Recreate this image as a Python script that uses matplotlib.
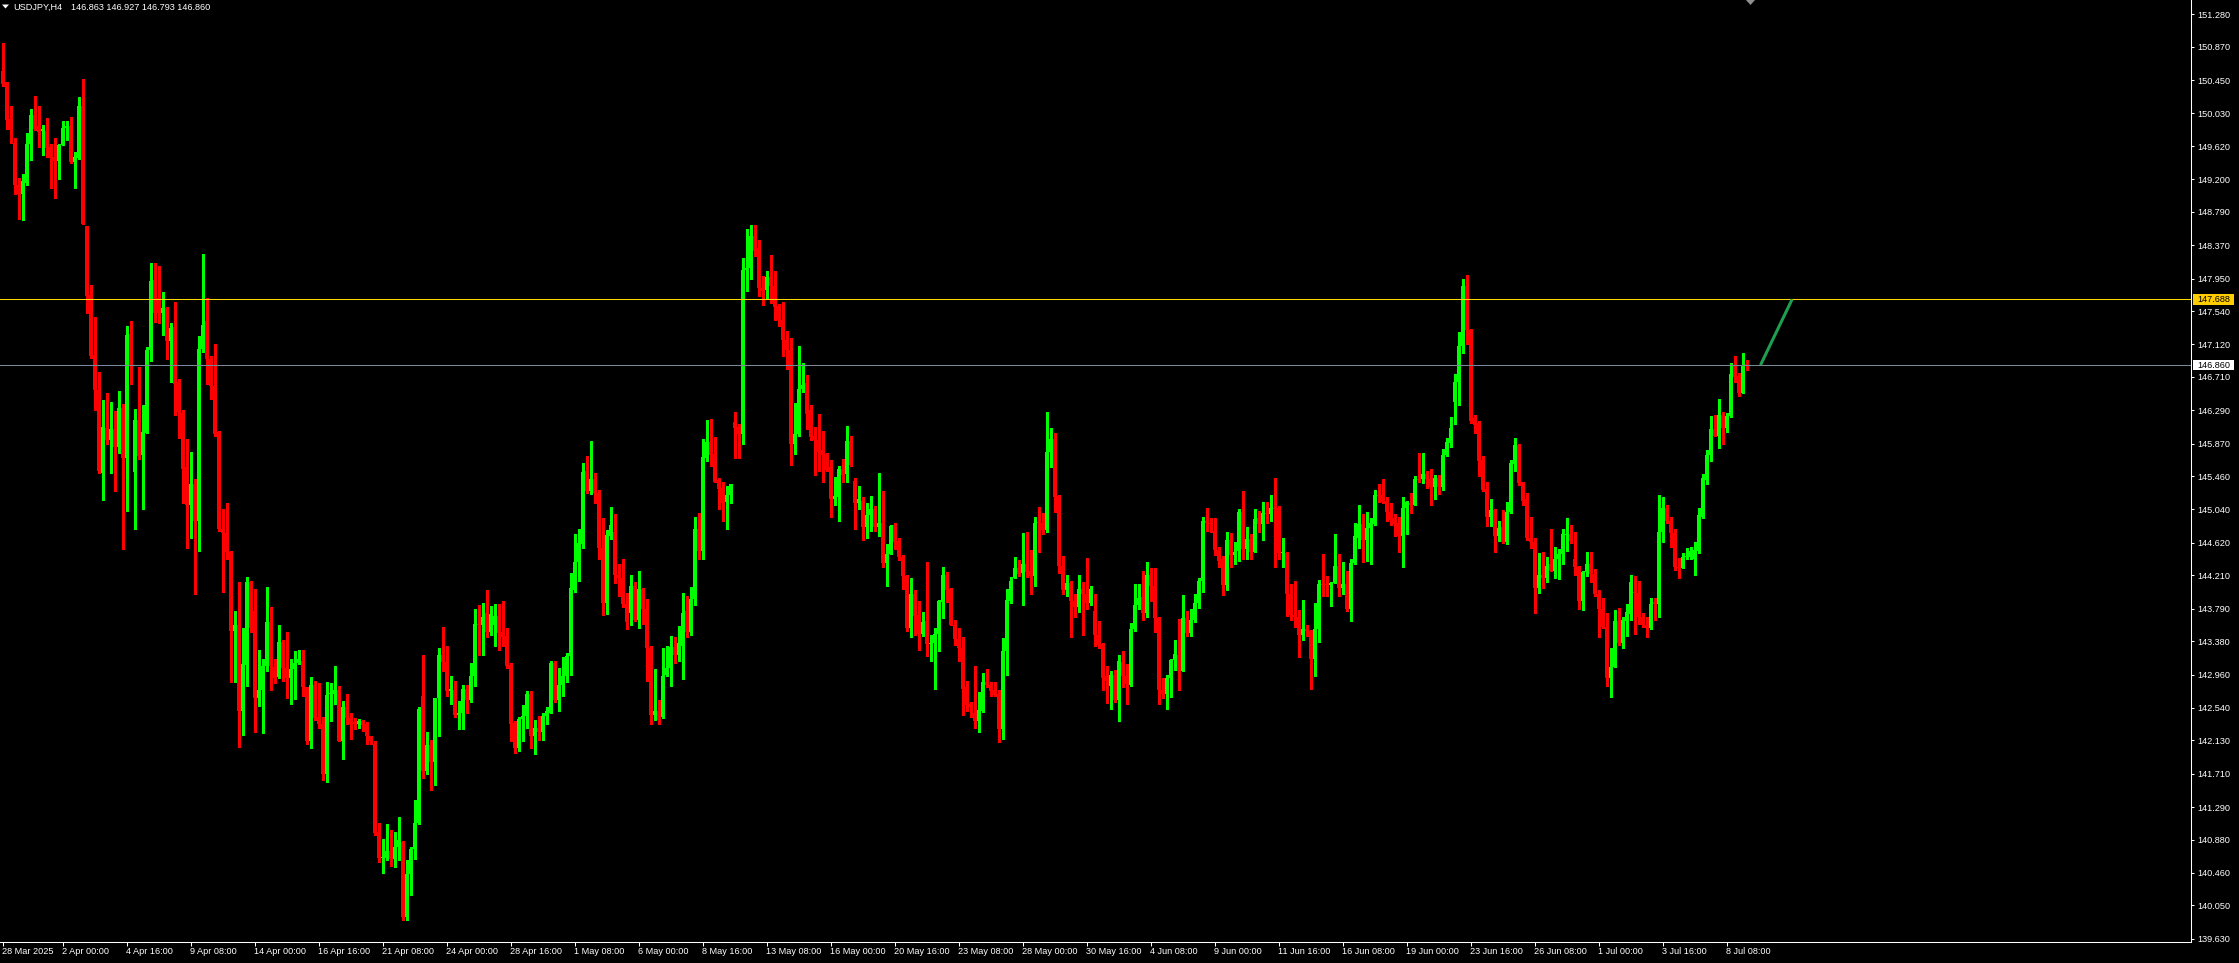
import matplotlib
matplotlib.use('Agg')
import matplotlib.pyplot as plt
from matplotlib.patches import Polygon, Rectangle
from matplotlib.transforms import blended_transform_factory, IdentityTransform
import numpy as np

plt.rcParams['font.family'] = ['Liberation Sans', 'DejaVu Sans']

symbol = 'USDJPY,H4'

opens = [
150.56,150.43,149.96,149.66,149.13,149.01,149.15,149.64,150.01,149.87,
149.81,149.81,149.61,149.48,149.43,149.63,149.85,149.87,149.42,149.47,
150.13,148.61,147.74,146.99,146.54,145.50,146.07,145.91,146.05,145.83,
146.32,145.69,147.25,145.51,146.17,145.72,146.00,147.05,147.93,147.71,
147.51,147.58,147.16,147.34,146.64,146.26,145.57,145.09,145.36,144.90,
147.06,147.41,146.93,146.59,146.01,144.79,144.74,144.51,143.51,143.59,
142.50,143.08,144.13,143.76,142.66,142.76,143.07,143.62,143.05,142.93,
143.37,143.04,142.91,143.03,143.11,143.13,142.80,142.12,142.83,142.42,
142.34,141.71,142.71,142.72,142.76,142.12,142.55,142.41,142.36,142.34,
142.37,142.34,142.18,142.09,140.98,140.65,140.65,140.74,140.64,140.79,
140.85,139.91,140.44,140.76,141.09,142.69,141.74,142.07,141.86,142.67,
143.21,143.12,142.76,142.77,142.45,142.48,142.78,142.64,142.94,143.60,
143.59,143.73,143.49,143.58,143.70,143.49,143.45,143.08,142.35,142.03,
142.40,142.44,142.72,142.19,142.29,142.24,142.44,142.48,143.11,142.64,
142.83,142.94,143.19,144.03,144.38,144.60,145.52,145.27,145.42,145.25,
144.56,143.86,144.71,144.76,144.22,144.17,143.85,143.74,144.08,143.65,
144.04,143.78,143.30,142.45,142.50,142.42,142.96,143.04,143.31,143.20,
143.32,143.76,143.49,143.91,144.79,144.52,145.69,145.89,145.74,145.41,
145.31,145.14,145.22,146.14,146.08,145.99,148.06,148.08,148.49,148.33,
147.83,147.80,147.97,147.86,147.60,147.43,147.18,147.05,145.86,145.99,
146.56,146.63,146.29,145.96,145.91,145.79,145.74,145.58,145.17,145.20,
145.55,145.49,145.90,145.40,145.12,145.15,144.82,144.97,145.04,144.82,
144.87,144.37,144.48,144.84,144.64,144.44,144.20,143.54,143.98,143.71,
143.47,143.63,143.34,143.36,143.47,143.87,144.21,144.04,143.59,143.41,
143.29,142.80,142.59,142.48,142.37,142.50,142.86,142.83,142.77,142.72,
142.27,143.26,143.88,144.17,144.30,144.24,144.35,144.27,144.20,144.87,
144.87,144.78,145.77,145.93,145.21,144.33,144.03,144.11,143.89,143.81,
144.04,143.98,143.86,143.76,143.46,143.35,142.94,142.81,142.95,142.64,
143.12,142.94,142.83,143.53,143.84,143.94,143.74,144.21,144.08,143.67,
142.76,142.72,142.91,143.14,143.21,143.01,143.67,143.48,143.65,143.86,
144.14,144.90,144.87,144.77,144.53,144.41,144.09,144.65,144.46,144.52,
145.01,144.54,144.67,144.51,144.93,144.86,144.99,144.98,145.06,145.06,
144.49,144.49,143.97,143.71,143.68,143.46,143.53,143.51,143.16,143.53,
144.10,144.10,144.09,144.11,144.33,144.05,144.10,143.78,144.36,144.68,
144.86,144.65,144.80,144.86,145.22,145.22,145.15,145.01,144.93,144.87,
144.71,145.06,145.12,145.10,145.42,145.42,145.49,145.42,145.32,145.44,
145.32,145.72,145.88,146.40,146.65,147.10,147.86,147.30,146.19,146.13,
145.66,145.30,144.95,145.03,144.71,144.82,144.63,145.01,145.61,145.85,
145.38,145.17,144.68,144.63,144.05,144.22,144.17,144.35,144.27,144.42,
144.48,144.72,144.73,144.42,144.31,143.89,144.25,144.35,144.23,143.98,
143.78,143.56,142.92,143.06,143.63,143.36,143.64,143.72,144.00,143.99,
143.69,143.59,143.55,143.87,143.85,144.76,145.06,144.90,144.74,144.31,
144.30,144.44,144.44,144.41,144.52,144.95,145.41,145.73,146.05,145.97,
146.23,146.07,146.22,146.86,146.72,146.51,146.863]

highs = [
150.92,150.43,150.13,149.72,149.22,149.27,149.78,150.09,150.25,150.13,
149.89,149.97,149.64,149.72,149.64,149.93,149.93,149.99,149.55,150.24,
150.46,148.61,147.87,147.46,146.77,146.42,146.51,146.40,146.28,146.53,
146.37,147.35,147.41,146.31,146.84,146.36,147.09,148.14,148.14,148.11,
147.78,147.59,147.39,147.65,146.69,146.29,145.93,145.77,145.42,147.23,
148.26,147.70,146.97,147.13,146.03,145.04,145.12,144.52,143.76,144.13,
143.54,144.19,144.14,144.04,143.27,143.16,144.06,143.81,143.16,143.59,
143.39,143.49,143.16,143.25,143.27,143.27,142.80,142.93,142.88,142.85,
142.43,142.86,142.85,143.07,142.81,142.63,142.71,142.48,142.41,142.40,
142.39,142.36,142.19,142.12,141.09,140.89,141.07,141.00,140.97,141.17,
140.86,140.62,140.79,141.38,142.55,143.21,142.23,142.14,142.67,143.29,
143.56,143.32,142.94,142.88,142.63,142.83,142.83,143.10,143.78,143.84,
143.86,144.03,143.82,143.85,143.85,143.89,143.54,143.10,142.37,142.43,
142.57,142.75,142.75,142.39,142.44,142.48,142.55,143.13,143.13,143.04,
143.18,143.23,144.24,144.73,144.79,145.63,145.71,145.90,145.50,145.28,
144.93,144.78,145.07,144.98,144.35,144.41,143.99,144.22,144.13,144.27,
144.05,143.91,143.32,143.03,142.64,143.29,143.32,143.45,143.43,143.57,
143.99,143.95,144.06,144.95,145.00,145.93,146.17,146.18,145.95,145.44,
145.39,145.34,145.36,146.27,146.12,148.21,148.57,148.63,148.63,148.44,
147.98,148.04,148.25,148.04,147.63,147.65,147.29,147.20,146.38,147.10,
146.89,146.73,146.35,146.08,146.24,146.03,145.75,145.66,145.45,145.59,
145.68,146.09,145.96,145.44,145.34,145.20,145.12,145.21,145.08,145.50,
145.27,144.60,144.84,144.87,144.68,144.46,144.22,144.18,144.02,143.89,
143.75,144.38,143.46,143.54,143.90,144.31,144.25,144.05,143.65,143.55,
143.43,142.88,142.61,143.07,142.74,142.98,143.03,142.87,142.86,142.76,
143.42,144.04,144.19,144.44,144.40,144.74,144.76,144.53,144.95,145.07,
144.99,146.27,146.07,146.00,145.22,144.45,144.22,144.14,143.97,144.22,
144.12,144.43,144.08,143.97,143.64,143.36,143.07,143.00,143.02,143.21,
143.26,143.09,143.61,144.10,144.10,144.26,144.38,144.30,144.30,143.69,
142.92,142.96,143.16,143.40,143.66,143.96,143.76,143.78,143.97,144.17,
144.95,145.06,144.93,144.93,144.57,144.45,144.76,144.74,144.63,145.04,
145.27,144.82,144.73,145.04,145.02,145.14,145.13,145.22,145.44,145.08,
144.68,144.50,144.10,144.14,143.77,143.90,143.59,143.52,143.86,144.15,
144.48,144.20,144.13,144.73,144.48,144.38,144.27,144.41,144.87,145.09,
144.98,145.01,144.93,145.28,145.36,145.42,145.20,145.12,144.98,144.95,
145.20,145.15,145.25,145.46,145.75,145.75,145.53,145.55,145.48,145.47,
145.80,145.94,146.21,146.75,147.27,147.95,148.00,147.32,146.23,146.15,
145.71,145.39,145.17,145.04,144.90,145.03,145.14,145.66,145.94,145.86,
145.39,145.25,144.95,144.68,144.49,144.50,144.44,144.79,144.57,144.54,
144.79,144.93,144.84,144.75,144.33,144.27,144.50,144.50,144.29,144.02,
143.93,143.74,143.29,143.77,143.80,143.69,143.85,144.22,144.20,144.14,
143.73,143.69,143.92,143.92,145.22,145.20,145.10,144.95,144.79,144.43,
144.49,144.55,144.57,144.63,145.06,145.49,145.79,146.22,146.23,146.43,
146.27,146.26,146.89,146.97,146.76,147.01,146.927]

lows = [
150.37,149.84,149.66,149.01,148.70,148.69,149.13,149.44,149.82,149.61,
149.51,149.48,149.09,148.96,149.21,149.63,149.69,149.40,149.09,149.46,
148.64,147.51,146.95,146.29,145.50,145.16,145.86,145.50,145.27,145.75,
144.54,145.02,146.62,144.79,145.67,145.05,146.00,146.91,147.40,147.39,
147.24,146.94,146.65,146.23,145.94,145.12,144.56,144.68,143.98,144.52,
147.03,146.62,146.43,145.96,144.77,144.00,144.42,142.87,142.87,142.05,
142.20,142.81,143.49,142.23,142.56,142.22,143.01,142.76,142.85,142.91,
142.88,142.67,142.59,142.65,143.09,142.69,142.09,142.03,142.39,142.29,
141.63,141.60,142.37,142.59,142.12,141.89,142.34,142.15,142.27,142.28,
142.25,142.09,142.09,140.94,140.60,140.46,140.62,140.55,140.53,140.62,
139.87,139.87,140.18,140.64,141.08,141.66,141.71,141.51,141.57,142.18,
143.00,142.69,142.59,142.42,142.27,142.27,142.47,142.61,142.81,143.21,
143.21,143.43,143.46,143.32,143.27,143.32,143.04,142.12,141.97,142.00,
142.12,142.29,142.03,141.96,142.13,142.13,142.33,142.48,142.61,142.50,
142.69,142.86,142.95,144.00,144.14,144.55,145.25,145.23,145.12,144.42,
143.71,143.72,144.67,144.11,143.95,143.81,143.53,143.59,143.64,143.54,
143.60,142.88,142.34,142.39,142.34,142.41,142.94,142.81,143.11,143.13,
142.90,143.43,143.46,143.83,144.41,144.42,145.65,145.59,145.39,145.05,
144.90,144.79,145.12,145.69,145.69,145.86,147.79,147.95,148.23,147.73,
147.62,147.71,147.64,147.43,147.35,146.97,146.81,145.60,145.74,145.97,
146.52,146.05,145.92,145.47,145.53,145.39,145.52,144.95,145.10,144.90,
145.39,145.39,145.59,144.79,145.04,144.65,144.68,144.77,144.77,144.71,
144.32,144.08,144.48,144.54,144.40,144.04,143.51,143.43,143.46,143.27,
143.44,143.19,143.13,142.78,143.26,143.67,143.87,143.58,143.33,143.13,
142.45,142.50,142.42,142.28,142.23,142.49,142.80,142.69,142.69,142.11,
142.15,142.96,143.86,144.17,144.20,143.83,144.19,143.98,144.07,144.50,
144.73,144.76,145.58,145.01,144.24,143.97,143.95,143.43,143.68,143.75,
143.46,143.78,143.84,143.32,143.29,142.76,142.60,142.52,142.61,142.37,
142.80,142.59,142.81,143.51,143.78,143.65,143.68,143.89,143.49,142.59,
142.67,142.52,142.68,143.02,142.76,143.01,143.44,143.45,143.62,143.80,
144.00,144.77,144.76,144.46,144.32,143.96,144.02,144.32,144.35,144.39,
144.42,144.41,144.42,144.50,144.75,144.65,144.87,144.90,144.31,144.42,
144.31,143.70,143.65,143.56,143.18,143.40,143.44,142.78,142.94,143.37,
143.95,143.95,143.82,144.13,143.95,143.97,143.76,143.63,144.35,144.55,
144.38,144.39,144.35,144.84,145.13,145.12,144.89,144.84,144.70,144.51,
144.31,144.73,145.00,145.09,145.39,145.37,145.31,145.10,145.17,145.23,
145.28,145.71,145.83,146.12,146.35,147.01,147.13,146.13,146.00,145.46,
145.27,144.83,144.83,144.50,144.64,144.62,144.60,144.99,145.53,145.35,
145.09,144.66,144.55,143.74,143.99,144.05,144.13,144.26,144.17,144.16,
144.35,144.52,144.62,144.22,143.78,143.77,144.20,144.12,143.95,143.43,
143.54,142.81,142.68,143.06,143.33,143.29,143.44,143.65,143.47,143.60,
143.56,143.43,143.53,143.65,143.69,144.63,144.87,144.57,144.28,144.17,
144.30,144.41,144.41,144.21,144.49,144.93,145.36,145.65,145.97,145.81,
145.86,146.01,146.21,146.64,146.47,146.51,146.793]

closes = [
150.40,149.95,149.82,149.13,149.01,149.18,149.64,150.01,149.84,149.80,
149.83,149.60,149.47,149.43,149.63,149.85,149.87,149.42,149.48,150.13,
148.64,147.73,146.98,146.54,145.53,146.08,145.91,146.05,145.83,146.32,
145.69,147.24,146.86,146.17,145.71,146.02,147.05,147.92,147.51,147.51,
147.58,147.16,147.33,146.62,146.27,145.55,145.09,145.36,144.90,147.06,
147.36,146.93,146.59,145.99,144.79,144.74,144.51,143.51,143.59,142.50,
143.09,144.13,143.54,142.66,142.76,143.07,143.62,143.07,142.91,143.37,
143.04,142.91,143.03,143.11,143.16,142.80,142.12,142.83,142.41,142.34,
141.71,142.70,142.72,142.76,142.12,142.55,142.41,142.34,142.34,142.38,
142.32,142.18,142.12,140.96,140.65,140.66,140.74,140.64,140.79,140.87,
139.91,140.44,140.76,141.09,142.53,141.75,142.07,141.86,142.67,143.21,
143.12,142.75,142.77,142.45,142.48,142.78,142.64,142.94,143.60,143.59,
143.69,143.49,143.72,143.70,143.48,143.43,143.07,142.34,142.03,142.40,
142.44,142.72,142.19,142.29,142.24,142.44,142.50,143.11,142.64,142.83,
142.94,143.19,144.05,144.38,144.62,145.51,145.27,145.42,145.25,144.56,
143.86,144.72,144.84,144.22,144.17,143.85,143.62,144.08,143.65,144.04,
143.78,143.29,142.45,142.50,142.39,142.94,143.04,143.31,143.20,143.36,
143.73,143.49,143.91,144.79,144.52,145.70,145.89,145.73,145.39,145.30,
145.12,145.22,145.36,146.07,145.99,148.06,148.08,148.49,148.30,147.83,
147.79,147.97,147.86,147.59,147.43,147.18,147.05,145.86,145.99,146.56,
146.61,146.24,145.95,145.92,145.77,145.73,145.54,145.17,145.21,145.55,
145.47,145.90,145.60,145.12,145.17,144.82,144.97,145.04,144.82,144.87,
144.37,144.48,144.83,144.63,144.44,144.20,143.54,143.97,143.70,143.47,
143.62,143.34,143.36,143.47,143.88,144.21,144.03,143.59,143.41,143.29,
142.78,142.58,142.55,142.37,142.51,142.86,142.83,142.75,142.70,142.27,
143.26,143.90,144.14,144.30,144.23,144.35,144.25,144.20,144.87,144.87,
144.78,145.77,145.93,145.20,144.33,144.03,144.11,143.88,143.81,144.04,
143.98,143.86,144.04,143.46,143.33,142.92,142.88,142.95,142.64,143.13,
142.94,142.84,143.53,143.84,143.92,143.73,144.21,144.08,143.67,142.76,
142.72,142.91,143.14,143.22,143.01,143.67,143.48,143.65,143.86,144.14,
144.90,144.87,144.86,144.53,144.39,144.09,144.65,144.46,144.50,145.01,
144.54,144.67,144.51,144.92,144.86,144.99,144.98,145.06,145.04,144.49,
144.51,143.97,143.71,143.68,143.46,143.53,143.51,143.16,143.53,144.10,
144.09,144.09,144.11,144.33,144.05,144.10,143.78,144.36,144.70,144.86,
144.65,144.80,144.87,145.22,145.21,145.14,145.01,144.91,144.86,144.71,
145.06,145.14,145.10,145.42,145.41,145.49,145.42,145.32,145.44,145.32,
145.72,145.89,146.07,146.65,147.10,147.86,147.30,146.16,146.10,145.65,
145.28,144.95,145.03,144.71,144.80,144.63,145.01,145.63,145.85,145.37,
145.15,144.68,144.63,144.05,144.22,144.17,144.33,144.27,144.41,144.48,
144.73,144.73,144.64,144.31,143.89,144.25,144.35,144.23,143.98,143.78,
143.56,142.92,143.06,143.63,143.36,143.65,143.75,144.13,143.99,143.69,
143.58,143.55,143.85,143.85,144.76,145.06,144.90,144.74,144.31,144.30,
144.44,144.45,144.52,144.53,144.97,145.43,145.73,146.05,145.97,146.23,
146.07,146.22,146.75,146.71,146.51,146.86,146.860]

# horizontal level (gold line) and current bid (grey line)
level_price = 147.688
bid_price = 146.860
# projected move drawn on the chart: from bar position to bar position
proj_bars = [439.5, 447.4]

y_tick_values = [151.280, 150.870, 150.450, 150.030, 149.620, 149.200, 148.790,
                 148.370, 147.950, 147.540, 147.120, 146.710, 146.290, 145.870,
                 145.460, 145.040, 144.620, 144.210, 143.790, 143.380, 142.960,
                 142.540, 142.130, 141.710, 141.290, 140.880, 140.460, 140.050,
                 139.630]

x_label_bars = [0, 15, 31, 47, 63, 79, 95, 111, 127, 143, 159, 175, 191, 207,
                223, 239, 255, 271, 287, 303, 319, 335, 351, 367, 383, 399, 415, 431]
x_labels = ['28 Mar 2025', '2 Apr 00:00', '4 Apr 16:00', '9 Apr 08:00', '14 Apr 00:00',
            '16 Apr 16:00', '21 Apr 08:00', '24 Apr 00:00', '28 Apr 16:00', '1 May 08:00',
            '6 May 00:00', '8 May 16:00', '13 May 08:00', '16 May 00:00', '20 May 16:00',
            '23 May 08:00', '28 May 00:00', '30 May 16:00', '4 Jun 08:00', '9 Jun 00:00',
            '11 Jun 16:00', '16 Jun 08:00', '19 Jun 00:00', '23 Jun 16:00', '26 Jun 08:00',
            '1 Jul 00:00', '3 Jul 16:00', '8 Jul 08:00']

# ---------------------------------------------------------------
n = min(len(opens), len(highs), len(lows), len(closes))
o = np.array(opens[:n]); h = np.array(highs[:n]); l = np.array(lows[:n]); c = np.array(closes[:n])
h = np.maximum(h, np.maximum(o, c)); l = np.minimum(l, np.minimum(o, c))
idx = np.arange(n)

BULL = '#00FF00'
BEAR = '#FF0000'
cols = np.where(c > o, BULL, BEAR)

W, H = 2239, 963
fig = plt.figure(figsize=(W / 100, H / 100), dpi=100, facecolor='black')
ax = fig.add_axes([0, (H - 942) / H, 2191 / W, 942 / H])
ax.set_facecolor('black')

ax.set_xlim(-0.625, -0.625 + 2191 / 4)
ax.set_ylim(139.589, 151.460)

# wicks
ax.vlines(idx, l, h, colors=cols, linewidth=0.75, antialiased=False, zorder=2)
# bodies
minh = 0.014
body = np.abs(c - o)
bottom = np.where(body < minh, (o + c) / 2 - minh / 2, np.minimum(o, c))
ax.bar(idx, np.maximum(body, minh), bottom=bottom, width=0.75, color=cols,
       linewidth=0, antialiased=False, zorder=3)

# horizontal lines
ax.axhline(level_price, color='#FFD700', linewidth=0.75, zorder=4)
ax.axhline(bid_price, color='#778899', linewidth=0.75, zorder=4)

# projected move
ax.plot(proj_bars, [bid_price, level_price], color='#1f9e4f', linewidth=2.2,
        solid_capstyle='butt', zorder=5)

# spines
for s in ['top', 'left']:
    ax.spines[s].set_visible(False)
for s in ['right', 'bottom']:
    ax.spines[s].set_color('white')
    ax.spines[s].set_linewidth(0.75)

ax.yaxis.tick_right()
ax.set_yticks(y_tick_values)
ax.set_yticklabels([f'{v:.3f}' for v in y_tick_values])
ax.tick_params(axis='y', which='both', colors='white', direction='out', length=2.3,
               width=0.75, pad=2.6, labelsize=6.6, labelcolor='white', left=False)

ax.set_xticks(x_label_bars, labels=x_labels, ha='left')
ax.tick_params(axis='x', which='both', colors='white', direction='out', length=3,
               width=0.75, pad=0.8, labelsize=6.6, labelcolor='white')

# price label boxes on the right axis
btr = blended_transform_factory(ax.transAxes, ax.transData)
box_h = 10.5 / 79.35
bw = 41 / 2191
for price, fc in [(level_price, '#FFCC00'), (bid_price, '#FFFFFF')]:
    ax.add_patch(Rectangle((1.0008, price - box_h / 2), bw, box_h, transform=btr,
                           facecolor=fc, edgecolor='none', clip_on=False, zorder=6))
    ax.text(1.0008 + 0.0022, price, f'{price:.3f}', transform=btr, ha='left',
            va='center', fontsize=6.6, color='black', clip_on=False, zorder=7)

# header (symbol + OHLC of last bar)
def fy(py):
    return H - py
tri = Polygon([(2, fy(4.5)), (9, fy(4.5)), (5.5, fy(8.5))], closed=True,
              facecolor='white', edgecolor='none', transform=IdentityTransform())
fig.patches.append(tri)
fig.text(13 / W, 1 - 7 / H, symbol, color='white', fontsize=6.6, ha='left', va='center')
fig.text(71 / W, 1 - 7 / H, f'{o[-1]:.3f} {h[-1]:.3f} {l[-1]:.3f} {c[-1]:.3f}',
         color='white', fontsize=6.6, ha='left', va='center')

# chart-shift marker at top
shift = Polygon([(1746, fy(0)), (1755, fy(0)), (1750.5, fy(5))], closed=True,
                facecolor='#909090', edgecolor='none', transform=IdentityTransform())
fig.patches.append(shift)

fig.savefig('out.png', dpi=100, facecolor='black')
